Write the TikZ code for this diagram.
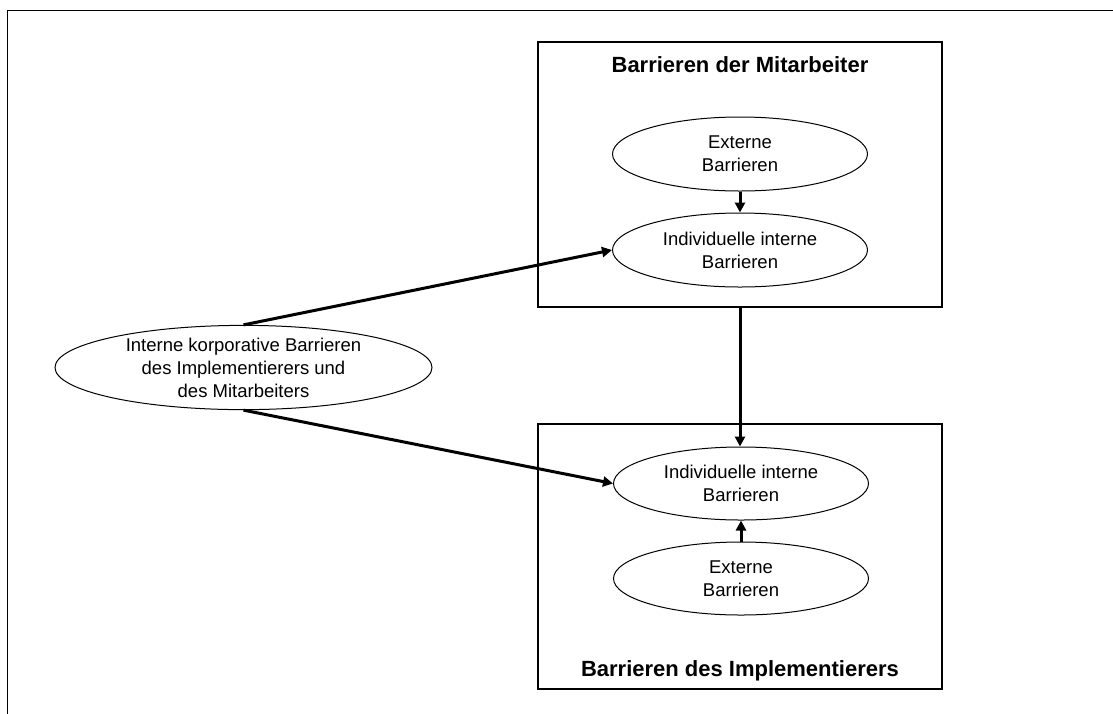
\documentclass[tikz,border=0pt]{standalone}
\usepackage{fontspec}
\setmainfont{Liberation Sans}
\usetikzlibrary{shapes.geometric,arrows.meta}
\begin{document}
\begin{tikzpicture}[x=1pt,y=-1pt,
  oval/.style={draw,line width=1pt,ellipse,minimum width=#1,align=center,font=\fontsize{18.5}{23}\selectfont,inner sep=0pt},
  oval/.default=255pt,
  group/.style={draw,line width=1.2pt},
  conn/.style={line width=3pt,-{Triangle[length=10pt,width=10pt]}},
  title/.style={font=\bfseries\fontsize{22}{26}\selectfont}]
\useasboundingbox (0,0) rectangle (1113,713);
\draw[line width=1.8pt] (7.5,800) -- (7.5,10.5) -- (1200,10.5);
% boxes
\draw[group] (538,42) rectangle (942,307);
\draw[group] (538,424) rectangle (942,689);
\node[title] (t1) at (740,65) {Barrieren der Mitarbeiter};
\node[title] (t2) at (740,671) {Barrieren des Implementierers};
% ellipses
\node[oval,minimum height=74pt] (e1) at (740,154) {Externe\\Barrieren};
\node[oval,minimum height=74pt] (i1) at (740,250) {Individuelle interne\\Barrieren};
\node[oval,minimum height=73pt] (i2) at (741,483.5) {Individuelle interne\\Barrieren};
\node[oval,minimum height=73pt] (e2) at (741,578.5) {Externe\\Barrieren};
\node[oval=377pt,minimum height=75pt] (k) at (243.5,367.5) {Interne korporative Barrieren\\des Implementierers und\\des Mitarbeiters};
\coordinate (b1) at (740,308);
% connectors
\draw[conn] (e1.south) -- (i1.north);
\draw[conn] (e2.north) -- (i2.south);
\draw[conn] (b1) -- (b1 |- i2.north);
\draw[conn] (k.north) -- (i1.west);
\draw[conn] (k.south) -- (i2.west);
\end{tikzpicture}
\end{document}
